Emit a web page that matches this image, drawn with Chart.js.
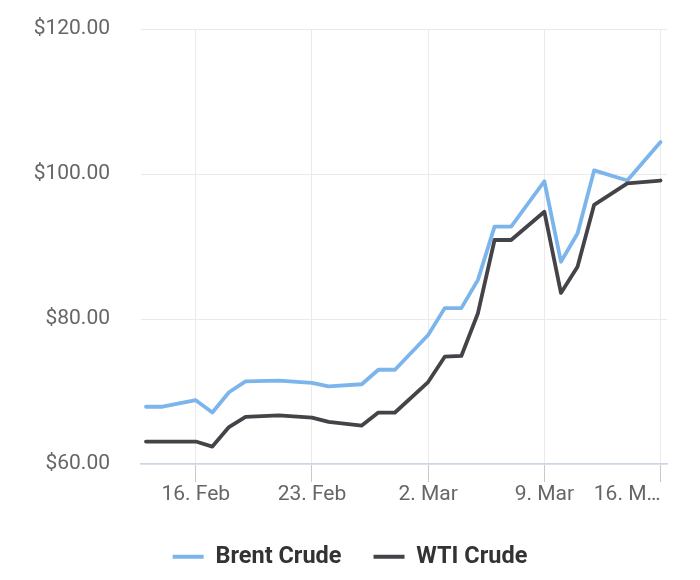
<!DOCTYPE html>
<html>
<head>
<meta charset="utf-8">
<script src="https://cdn.jsdelivr.net/npm/chart.js@4/dist/chart.umd.min.js"></script>
<style>
  html, body { margin: 0; padding: 0; background: #fff; }
  #wrap { width: 700px; height: 580px; }
</style>
</head>
<body>
<div id="wrap"><canvas id="oilChart"></canvas></div>
<script>
// price data (USD per barrel)
const dates = ['2026-02-13', '2026-02-14', '2026-02-16', '2026-02-17', '2026-02-18', '2026-02-19',
  '2026-02-21', '2026-02-23', '2026-02-24', '2026-02-26', '2026-02-27', '2026-02-28',
  '2026-03-02', '2026-03-03', '2026-03-04', '2026-03-05', '2026-03-06', '2026-03-07',
  '2026-03-09', '2026-03-10', '2026-03-11', '2026-03-12', '2026-03-14', '2026-03-16'];
const brent = [67.9, 67.9, 68.8, 67.1, 69.9, 71.4, 71.5, 71.2, 70.7, 71.0, 73.0, 73.0,
  77.8, 81.5, 81.5, 85.4, 92.75, 92.75, 99.0, 87.9, 91.8, 100.5, 99.1, 104.4];
const wti = [63.1, 63.1, 63.1, 62.4, 65.1, 66.5, 66.7, 66.4, 65.8, 65.3, 67.1, 67.1,
  71.3, 74.8, 74.9, 80.8, 90.9, 90.9, 94.8, 83.6, 87.2, 95.75, 98.7, 99.1];
const tickDates = ['2026-02-16', '2026-02-23', '2026-03-02', '2026-03-09', '2026-03-16'];
const tickLabels = ['16. Feb', '23. Feb', '2. Mar', '9. Mar', '16. M…'];
const yTicks = [60, 80, 100, 120];

const toDay = s => Date.parse(s) / 86400000;
const xMin = toDay(dates[0]) - 0.3;
const xMax = toDay(dates[dates.length - 1]) + 0.39;

const font = 'Roboto, "Noto Sans", sans-serif';
const gridCol = '#eaeaea';
const clear = 'rgba(0,0,0,0)';

new Chart(document.getElementById('oilChart'), {
  type: 'line',
  data: {
    datasets: [{
      label: 'Brent Crude',
      data: dates.map((d, i) => ({ x: toDay(d), y: brent[i] })),
      borderColor: '#7cb5ec',
      backgroundColor: '#7cb5ec',
      borderWidth: 3.8,
      order: 1
    }, {
      label: 'WTI Crude',
      data: dates.map((d, i) => ({ x: toDay(d), y: wti[i] })),
      borderColor: '#434348',
      backgroundColor: '#434348',
      borderWidth: 3.8,
      order: 0
    }]
  },
  options: {
    responsive: true,
    maintainAspectRatio: false,
    animation: false,
    layout: { padding: { top: 29, right: 0, bottom: 1.5, left: 0 } },
    elements: {
      line: { tension: 0, borderJoinStyle: 'round', borderCapStyle: 'round' },
      point: { radius: 0, hoverRadius: 0 }
    },
    plugins: {
      tooltip: { enabled: false },
      legend: {
        position: 'bottom',
        labels: {
          usePointStyle: true,
          pointStyle: 'line',
          pointStyleWidth: 31,
          padding: 32,
          color: '#333333',
          font: { family: font, size: 23.5, weight: 'bold' },
          sort: (a, b) => a.datasetIndex - b.datasetIndex
        }
      }
    },
    scales: {
      x: {
        type: 'linear',
        min: xMin,
        max: xMax,
        afterBuildTicks: s => { s.ticks = [xMin, ...tickDates.map(toDay)].map(v => ({ value: v })); },
        afterFit: s => { s.height = 49; },
        grid: {
          color: c => c.index === 0 ? clear : gridCol,
          tickColor: c => c.index === 0 ? clear : '#c8c8c8',
          tickLength: 18,
          lineWidth: 1
        },
        border: { color: '#ccd6eb', width: 1.5 },
        ticks: {
          align: 'inner',
          maxRotation: 0,
          autoSkip: false,
          padding: 0,
          color: '#666666',
          font: { family: font, size: 21 },
          callback: (v, i) => i === 0 ? '' : tickLabels[i - 1]
        }
      },
      y: {
        min: 60,
        max: 120,
        afterBuildTicks: s => { s.ticks = yTicks.map(v => ({ value: v })); },
        afterFit: s => { s.width = 141; },
        // invisible tick marks give the gap between labels and plot
        grid: { color: gridCol, tickColor: clear, tickLength: 31 },
        border: { display: false },
        ticks: {
          padding: 0,
          color: '#666666',
          font: { family: font, size: 21 },
          callback: v => '$' + v.toFixed(2)
        }
      },
      // empty right-hand axis, only keeps the margin right of the plot
      yRight: {
        position: 'right',
        min: 60,
        max: 120,
        afterFit: s => { s.width = 33; },
        grid: { display: false },
        border: { display: false },
        ticks: { display: false }
      }
    }
  }
});
</script>
</body>
</html>
